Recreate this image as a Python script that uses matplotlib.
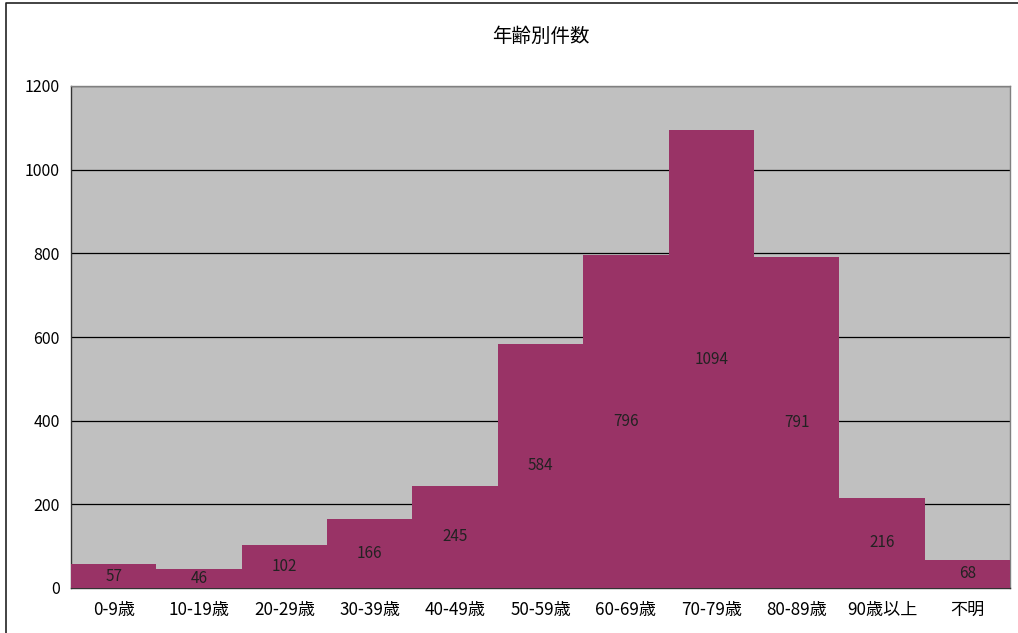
import matplotlib
matplotlib.use("Agg")
import matplotlib.pyplot as plt
from matplotlib.lines import Line2D
import numpy as np

plt.rcParams['font.family'] = ['Noto Sans CJK JP', 'DejaVu Sans']

title = "年齢別件数"
categories = ["0-9歳", "10-19歳", "20-29歳", "30-39歳", "40-49歳", "50-59歳",
              "60-69歳", "70-79歳", "80-89歳", "90歳以上", "不明"]
counts = [57, 46, 102, 166, 245, 584, 796, 1094, 791, 216, 68]
yticks = [0, 200, 400, 600, 800, 1000, 1200]

W, H = 1018, 633
fig = plt.figure(figsize=(W / 100, H / 100), dpi=100)
fig.patch.set_facecolor('white')

# outer chart frame: only top and left edges visible in the crop
fig.add_artist(Line2D([6 / W, 6 / W, 1.0], [0.0, 1 - 3 / H, 1 - 3 / H],
                      transform=fig.transFigure, color='#222222', linewidth=1.2))

left, right, top, bottom = 71, 1010, 86, 588
ax = fig.add_axes([left / W, 1 - bottom / H, (right - left) / W, (bottom - top) / H])
ax.set_facecolor('#C0C0C0')

x = np.arange(len(categories))
ax.bar(x, counts, width=1.0, color='#993366', edgecolor='none', zorder=3)
for xi, v in zip(x, counts):
    ax.text(xi, v / 2, str(v), ha='center', va='center', fontsize=11,
            color='#222222', zorder=4)

ax.set_xlim(-0.5, len(categories) - 0.5)
ax.set_ylim(0, 1200)
ax.set_yticks(yticks)
ax.set_yticklabels([str(t) for t in yticks], fontsize=11.5)
ax.yaxis.grid(True, color='black', linewidth=0.9, zorder=1)
ax.set_axisbelow(True)
ax.tick_params(axis='y', length=0, pad=8)

ax.set_xticks(x)
ax.set_xticklabels(categories, fontsize=12.3)
ax.tick_params(axis='x', length=0, pad=9)
ax.set_xticks(np.arange(len(categories) + 1) - 0.5, minor=True)
ax.tick_params(axis='x', which='minor', direction='in', length=4, color='#333333')

for s in ['top', 'right']:
    ax.spines[s].set_color('#808080')
    ax.spines[s].set_linewidth(1.0)
ax.spines['left'].set_color('#333333')
ax.spines['bottom'].set_color('#333333')
ax.spines['left'].set_linewidth(1.0)
ax.spines['bottom'].set_linewidth(1.0)

fig.text((left + right) / 2 / W, 1 - 36 / H, title, ha='center', va='center',
         fontsize=14)

fig.savefig("out.png", dpi=100)
